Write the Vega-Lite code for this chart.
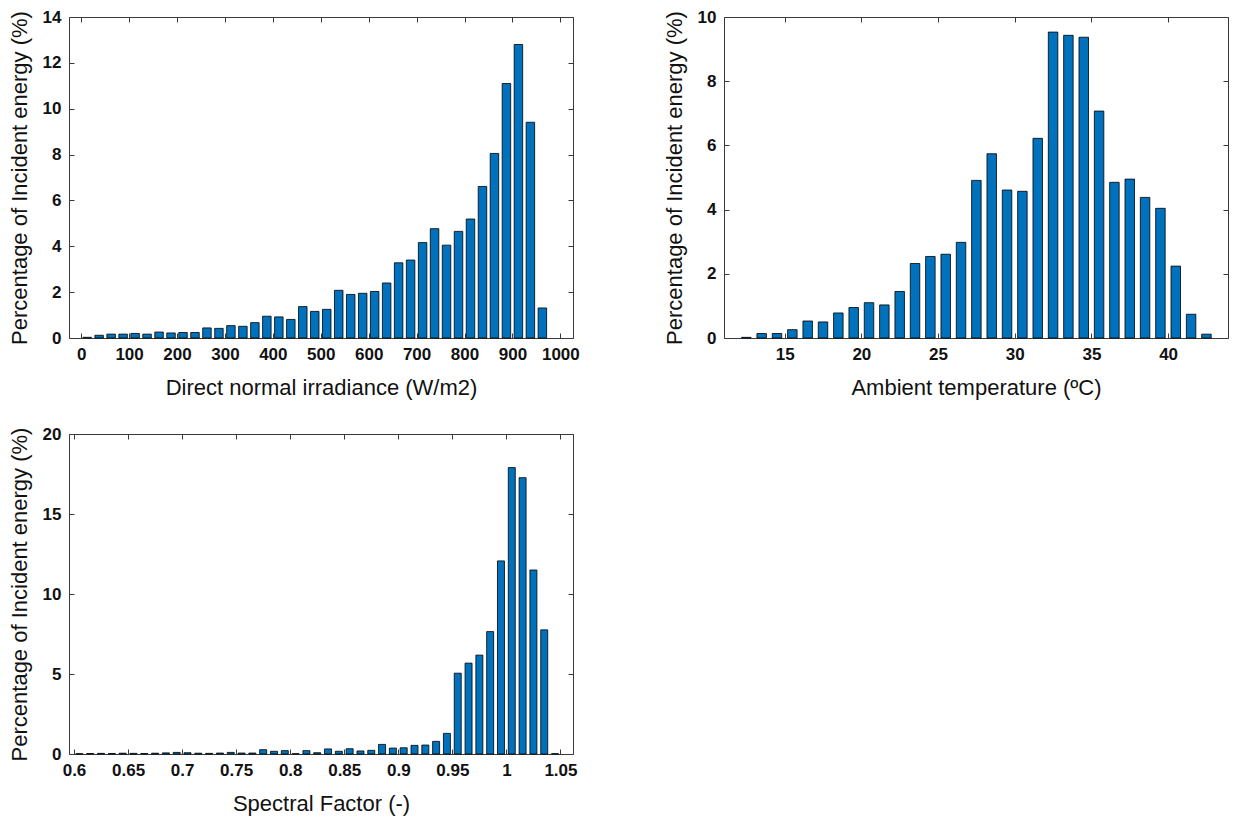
{
  "$schema": "https://vega.github.io/schema/vega-lite/v6.json",
  "background": "white",
  "padding": {"left": 7, "top": 7, "right": 5, "bottom": 5},
  "datasets": {
    "dni": [
      {"x": 12.5, "v": 0.03}, {"x": 37.5, "v": 0.12}, {"x": 62.5, "v": 0.17}, {"x": 87.5, "v": 0.17},
      {"x": 112.5, "v": 0.2}, {"x": 137.5, "v": 0.17}, {"x": 162.5, "v": 0.26}, {"x": 187.5, "v": 0.22},
      {"x": 212.5, "v": 0.24}, {"x": 237.5, "v": 0.24}, {"x": 262.5, "v": 0.44}, {"x": 287.5, "v": 0.42},
      {"x": 312.5, "v": 0.54}, {"x": 337.5, "v": 0.51}, {"x": 362.5, "v": 0.67}, {"x": 387.5, "v": 0.95},
      {"x": 412.5, "v": 0.92}, {"x": 437.5, "v": 0.81}, {"x": 462.5, "v": 1.37}, {"x": 487.5, "v": 1.16},
      {"x": 512.5, "v": 1.25}, {"x": 537.5, "v": 2.08}, {"x": 562.5, "v": 1.9}, {"x": 587.5, "v": 1.95},
      {"x": 612.5, "v": 2.03}, {"x": 637.5, "v": 2.4}, {"x": 662.5, "v": 3.28}, {"x": 687.5, "v": 3.4},
      {"x": 712.5, "v": 4.16}, {"x": 737.5, "v": 4.77}, {"x": 762.5, "v": 4.05}, {"x": 787.5, "v": 4.65},
      {"x": 812.5, "v": 5.19}, {"x": 837.5, "v": 6.61}, {"x": 862.5, "v": 8.05}, {"x": 887.5, "v": 11.1},
      {"x": 912.5, "v": 12.8}, {"x": 937.5, "v": 9.41}, {"x": 962.5, "v": 1.31}
    ],
    "temp": [
      {"x": 12.5, "v": 0.02}, {"x": 13.5, "v": 0.14}, {"x": 14.5, "v": 0.14}, {"x": 15.5, "v": 0.26},
      {"x": 16.5, "v": 0.53}, {"x": 17.5, "v": 0.5}, {"x": 18.5, "v": 0.78}, {"x": 19.5, "v": 0.95},
      {"x": 20.5, "v": 1.1}, {"x": 21.5, "v": 1.03}, {"x": 22.5, "v": 1.45}, {"x": 23.5, "v": 2.32},
      {"x": 24.5, "v": 2.54}, {"x": 25.5, "v": 2.61}, {"x": 26.5, "v": 2.98}, {"x": 27.5, "v": 4.91},
      {"x": 28.5, "v": 5.74}, {"x": 29.5, "v": 4.61}, {"x": 30.5, "v": 4.57}, {"x": 31.5, "v": 6.22},
      {"x": 32.5, "v": 9.53}, {"x": 33.5, "v": 9.43}, {"x": 34.5, "v": 9.37}, {"x": 35.5, "v": 7.07},
      {"x": 36.5, "v": 4.85}, {"x": 37.5, "v": 4.95}, {"x": 38.5, "v": 4.38}, {"x": 39.5, "v": 4.04},
      {"x": 40.5, "v": 2.24}, {"x": 41.5, "v": 0.74}, {"x": 42.5, "v": 0.12}
    ],
    "sf": [
      {"x": 0.605, "v": 0.02}, {"x": 0.615, "v": 0.03}, {"x": 0.625, "v": 0.04}, {"x": 0.635, "v": 0.03},
      {"x": 0.645, "v": 0.05}, {"x": 0.655, "v": 0.04}, {"x": 0.665, "v": 0.03}, {"x": 0.675, "v": 0.05},
      {"x": 0.685, "v": 0.07}, {"x": 0.695, "v": 0.1}, {"x": 0.705, "v": 0.08}, {"x": 0.715, "v": 0.05},
      {"x": 0.725, "v": 0.04}, {"x": 0.735, "v": 0.06}, {"x": 0.745, "v": 0.1}, {"x": 0.755, "v": 0.06},
      {"x": 0.765, "v": 0.06}, {"x": 0.775, "v": 0.27}, {"x": 0.785, "v": 0.17}, {"x": 0.795, "v": 0.21},
      {"x": 0.805, "v": 0.02}, {"x": 0.815, "v": 0.21}, {"x": 0.825, "v": 0.08}, {"x": 0.835, "v": 0.32},
      {"x": 0.845, "v": 0.17}, {"x": 0.855, "v": 0.33}, {"x": 0.865, "v": 0.19}, {"x": 0.875, "v": 0.23},
      {"x": 0.885, "v": 0.6}, {"x": 0.895, "v": 0.37}, {"x": 0.905, "v": 0.39}, {"x": 0.915, "v": 0.54},
      {"x": 0.925, "v": 0.56}, {"x": 0.935, "v": 0.79}, {"x": 0.945, "v": 1.29}, {"x": 0.955, "v": 5.05},
      {"x": 0.965, "v": 5.68}, {"x": 0.975, "v": 6.18}, {"x": 0.985, "v": 7.65}, {"x": 0.995, "v": 12.07},
      {"x": 1.005, "v": 17.9}, {"x": 1.015, "v": 17.27}, {"x": 1.025, "v": 11.5}, {"x": 1.035, "v": 7.76},
      {"x": 1.045, "v": 0.02}
    ]
  },
  "config": {
    "font": "Liberation Sans",
    "view": {"stroke": "#3a3a3a", "strokeWidth": 1},
    "axis": {
      "grid": false,
      "domain": false,
      "ticks": true,
      "tickSize": -5,
      "tickColor": "#3a3a3a",
      "tickWidth": 1,
      "labelFont": "Liberation Sans",
      "labelFontSize": 17,
      "labelFontWeight": "bold",
      "labelColor": "#111111",
      "labelPadding": 13,
      "labelFlush": false,
      "labelOverlap": false,
      "labelBound": false,
      "titleFont": "Liberation Sans",
      "titleFontSize": 22,
      "titleFontWeight": "normal",
      "titleColor": "#111111"
    },
    "axisX": {"titlePadding": 15},
    "axisY": {"titlePadding": 11}
  },
  "columns": 2,
  "bounds": "flush",
  "spacing": {"row": 96, "column": 151},
  "concat": [
    {
      "width": 504,
      "height": 321,
      "data": {"name": "dni"},
      "resolve": {"axis": {"x": "independent", "y": "independent"}},
      "layer": [
        {
          "mark": {"type": "bar", "size": 8.5, "fill": "#0072BD", "stroke": "#000000", "strokeWidth": 0.8},
          "encoding": {
            "x": {"field": "x", "type": "quantitative", "scale": {"domain": [-15, 1016], "nice": false, "zero": false},
                  "axis": {"values": [0, 100, 200, 300, 400, 500, 600, 700, 800, 900, 1000], "format": "d", "title": "Direct normal irradiance (W/m2)"}},
            "y": {"field": "v", "type": "quantitative", "scale": {"domain": [0, 14], "nice": false},
                  "axis": {"values": [0, 2, 4, 6, 8, 10, 12, 14], "title": "Percentage of Incident energy (%)"}}
          }
        },
        {
          "mark": {"type": "bar", "size": 1, "opacity": 0},
          "encoding": {
            "x": {"field": "x", "type": "quantitative",
                  "axis": {"orient": "top", "labels": false, "title": null, "values": [0, 100, 200, 300, 400, 500, 600, 700, 800, 900, 1000]}},
            "y": {"field": "v", "type": "quantitative",
                  "axis": {"orient": "right", "labels": false, "title": null, "values": [0, 2, 4, 6, 8, 10, 12, 14]}}
          }
        }
      ]
    },
    {
      "width": 504,
      "height": 321,
      "data": {"name": "temp"},
      "resolve": {"axis": {"x": "independent", "y": "independent"}},
      "layer": [
        {
          "mark": {"type": "bar", "size": 9.5, "fill": "#0072BD", "stroke": "#000000", "strokeWidth": 0.8},
          "encoding": {
            "x": {"field": "x", "type": "quantitative", "scale": {"domain": [11.37, 43.58], "nice": false, "zero": false},
                  "axis": {"values": [15, 20, 25, 30, 35, 40], "title": "Ambient temperature (ºC)"}},
            "y": {"field": "v", "type": "quantitative", "scale": {"domain": [0, 10], "nice": false},
                  "axis": {"values": [0, 2, 4, 6, 8, 10], "title": "Percentage of Incident energy (%)"}}
          }
        },
        {
          "mark": {"type": "bar", "size": 1, "opacity": 0},
          "encoding": {
            "x": {"field": "x", "type": "quantitative",
                  "axis": {"orient": "top", "labels": false, "title": null, "values": [15, 20, 25, 30, 35, 40]}},
            "y": {"field": "v", "type": "quantitative",
                  "axis": {"orient": "right", "labels": false, "title": null, "values": [0, 2, 4, 6, 8, 10]}}
          }
        }
      ]
    },
    {
      "width": 504,
      "height": 320,
      "data": {"name": "sf"},
      "resolve": {"axis": {"x": "independent", "y": "independent"}},
      "layer": [
        {
          "mark": {"type": "bar", "size": 7, "fill": "#0072BD", "stroke": "#000000", "strokeWidth": 0.8},
          "encoding": {
            "x": {"field": "x", "type": "quantitative", "scale": {"domain": [0.6, 1.057], "nice": false, "zero": false},
                  "axis": {"values": [0.6, 0.65, 0.7, 0.75, 0.8, 0.85, 0.9, 0.95, 1, 1.05], "format": "~g", "title": "Spectral Factor (-)"}},
            "y": {"field": "v", "type": "quantitative", "scale": {"domain": [0, 20], "nice": false},
                  "axis": {"values": [0, 5, 10, 15, 20], "title": "Percentage of Incident energy (%)"}}
          }
        },
        {
          "mark": {"type": "bar", "size": 1, "opacity": 0},
          "encoding": {
            "x": {"field": "x", "type": "quantitative",
                  "axis": {"orient": "top", "labels": false, "title": null, "values": [0.6, 0.65, 0.7, 0.75, 0.8, 0.85, 0.9, 0.95, 1, 1.05]}},
            "y": {"field": "v", "type": "quantitative",
                  "axis": {"orient": "right", "labels": false, "title": null, "values": [0, 5, 10, 15, 20]}}
          }
        }
      ]
    }
  ]
}
